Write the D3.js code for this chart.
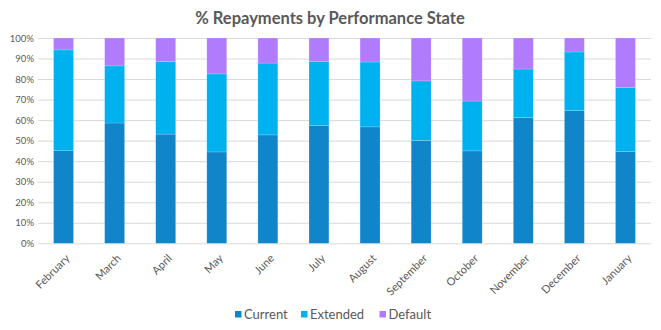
<!DOCTYPE html>
<html><head><meta charset="utf-8">
<script src="https://cdn.jsdelivr.net/npm/d3@7"></script>
<style>body{margin:0;background:#fff;font-family:Lato,"Open Sans",sans-serif;}</style>
</head><body><svg id="c" width="661" height="330"></svg>
<script>
const months = ["February","March","April","May","June","July","August","September","October","November","December","January"];
const current = [45.1,58.6,53.2,44.5,52.8,57.3,56.7,50.0,45.0,61.2,64.6,44.6];
const extended = [49.1,27.8,35.3,38.0,35.0,31.3,31.6,29.1,24.3,23.7,28.6,31.2];
const defaultV = [5.8,13.6,11.5,17.5,12.2,11.4,11.7,20.9,30.7,15.1,6.8,24.2];
const seriesNames = ["Current","Extended","Default"];
const colors = ["#1085CA","#00B1F0","#B07BFC"];
const yTicks = [0,10,20,30,40,50,60,70,80,90,100];

const svg = d3.select("#c");
const m = {l:38};
const x = d3.scaleBand().domain(months).range([m.l, 651]).paddingInner(0.61).paddingOuter(0.305);
const y = d3.scaleLinear().domain([0,100]).range([243.3, 38]);

svg.append("text").attr("x",330).attr("y",24).attr("text-anchor","middle")
  .attr("font-size",16.5).attr("font-weight","bold").attr("fill","#595959").text("% Repayments by Performance State");

const yAxis = d3.axisLeft(y).tickValues(yTicks).tickFormat(d=>d+"%").tickSize(-(651-m.l));
const ga = svg.append("g").attr("transform",`translate(${m.l},0)`).call(yAxis);
ga.select(".domain").remove();
ga.selectAll("line").attr("stroke","#D9D9D9").attr("stroke-width",1);
ga.selectAll("text").attr("x",-4).attr("fill","#595959").attr("font-size",9.5).attr("font-family","Lato");

const rows = months.map((mo,i)=>({month:mo, Current:current[i], Extended:extended[i], Default:defaultV[i]}));
const stack = d3.stack().keys(seriesNames)(rows);
svg.append("g").selectAll("g").data(stack).join("g").attr("fill",(d,i)=>colors[i])
  .selectAll("rect").data(d=>d).join("rect")
  .attr("x",d=>x(d.data.month)).attr("width",x.bandwidth())
  .attr("y",d=>y(Math.min(100,d[1]))).attr("height",d=>y(d[0])-y(Math.min(100,d[1])))
  .attr("stroke","#ffffff").attr("stroke-opacity",0.35).attr("stroke-width",0.5);

const xa = svg.append("g");
xa.selectAll("text").data(months).join("text")
  .attr("transform",d=>`translate(${x(d)+x.bandwidth()/2+7},259) rotate(-45)`)
  .attr("text-anchor","end").attr("font-size",11).attr("fill","#595959").attr("font-family","Lato")
  .text(d=>d);

const legX = [235, 301, 379.5];
const lg = svg.append("g");
seriesNames.forEach((s,i)=>{
  lg.append("rect").attr("x",legX[i]).attr("y",311).attr("width",6.5).attr("height",6.5).attr("fill",colors[i]);
  lg.append("text").attr("x",legX[i]+9).attr("y",318.5).attr("font-size",13).attr("fill","#595959").attr("font-family","Lato").text(s);
});
</script></body></html>
